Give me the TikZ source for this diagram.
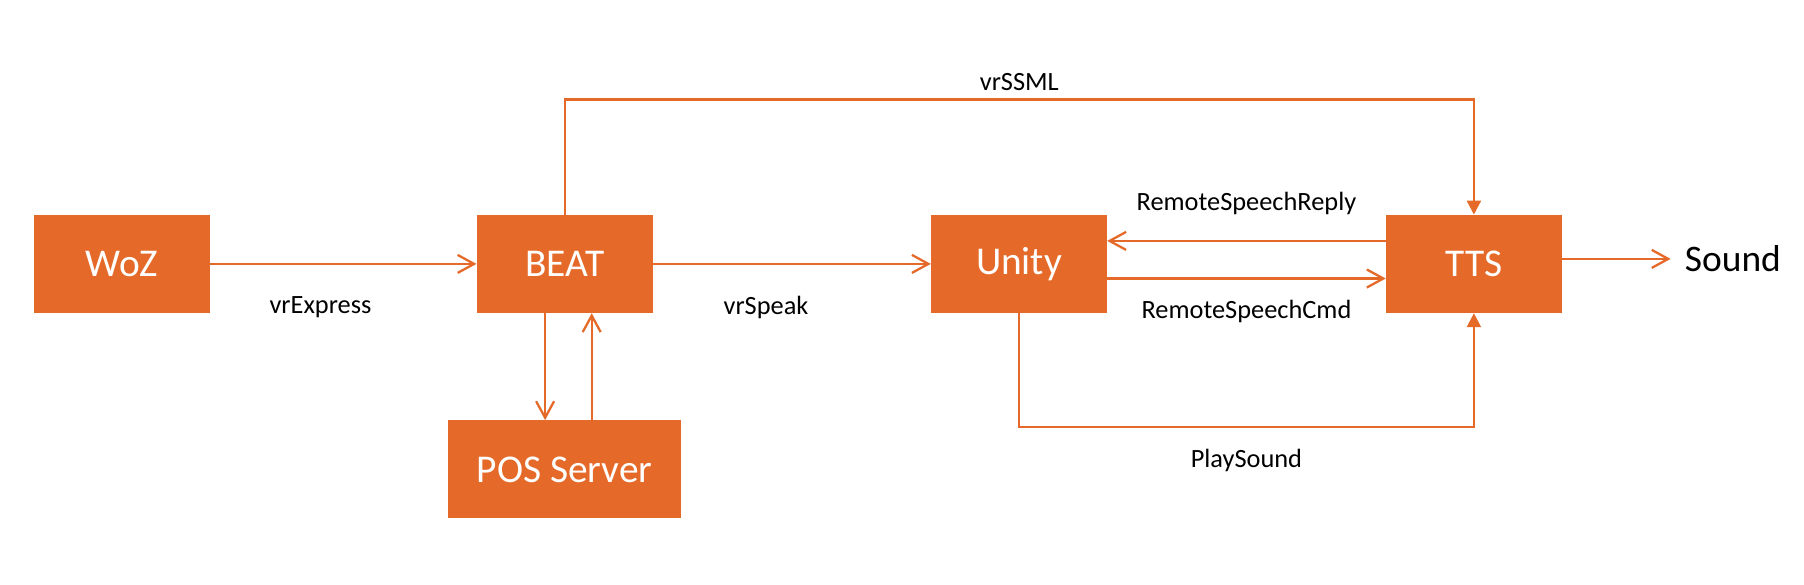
\documentclass[tikz,border=0pt]{standalone}
\usepackage{fontspec}
\setmainfont{Carlito}
\usepackage{tikz}
\usetikzlibrary{arrows.meta}
\usetikzlibrary{positioning}
\definecolor{beatorange}{RGB}{229,106,41}

\begin{document}
\begin{tikzpicture}[box/.style={rectangle, fill=beatorange, text=white, minimum width=3.514cm, minimum height=1.958cm, font=\fontsize{22.4}{26}\selectfont},
        msg/.style={font=\fontsize{15}{17}\selectfont, inner sep=0pt},
        flow/.style={draw=beatorange, line width=1.3pt, -{Straight Barb[length=0.33cm, width=0.36cm]}},
        feed/.style={draw=beatorange, line width=1.3pt, -{Triangle[length=0.28cm, width=0.28cm]}}]
        \useasboundingbox (-2.44,-6.402) rectangle (33.64,5.278);
        \node[box] (woz) {WoZ};
        \node[box, right=5.326cm of woz] (beat) {BEAT};
        \node[box, right=5.558cm of beat] (unity) {Unity};
        \node[box, right=5.57cm of unity] (tts) {TTS};
        \node[box, below=2.138cm of beat, minimum width=4.66cm] (pos) {POS Server};
        \node[right=2.17cm of tts, yshift=0.1cm, inner xsep=0.28cm, font=\fontsize{21.3}{25}\selectfont] (sound) {Sound};
        
        \draw[flow] (woz) -- node[msg, pos=0.414, yshift=-0.874cm] {vrExpress} (beat);
        \draw[flow] (beat) -- node[msg, pos=0.407, yshift=-0.874cm] {vrSpeak} (unity);
        \draw[feed] (beat.north) -- ++(0,2.303) -| node[msg, pos=0.25, yshift=0.356cm] {vrSSML} (tts.north);
        
        % POS server round trip
        \draw[flow] ([xshift=-0.392cm]beat.south) -- ([xshift=-0.392cm]beat.south |- pos.north);
        \draw[flow] ([xshift=0.54cm]pos.north) -- ([xshift=0.54cm]pos.north |- beat.south);
        
        \draw[flow] ([yshift=0.46cm]tts.west) -- node[msg, midway, yshift=0.746cm] {RemoteSpeechReply} ([yshift=0.46cm]unity.east);
        \draw[flow] ([yshift=-0.292cm]unity.east) -- node[msg, midway, yshift=-0.65cm] {RemoteSpeechCmd} ([yshift=-0.292cm]tts.west);
        \draw[feed] (unity.south) -- ++(0,-2.272) -| node[msg, pos=0.25, yshift=-0.672cm] {PlaySound} (tts.south);
        \draw[flow] (tts.east |- sound.west) -- (sound.west);
    \end{tikzpicture}
\end{document}
